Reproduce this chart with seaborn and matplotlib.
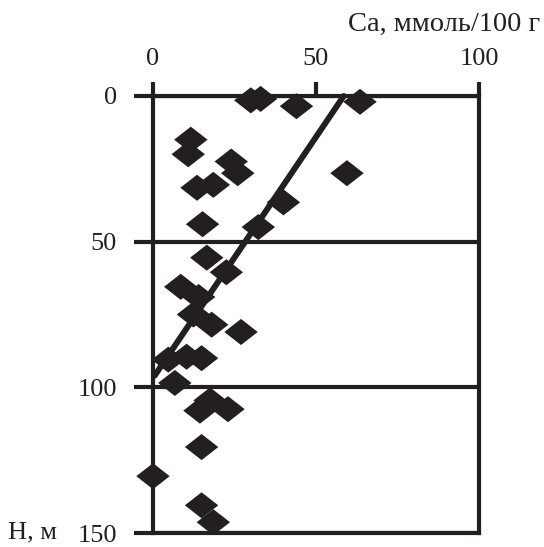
import matplotlib
matplotlib.use("Agg")
import matplotlib.pyplot as plt
import seaborn as sns
import pandas as pd

# Ca content (mmol/100 g) vs depth H (m)
ca = [30, 33, 44, 63.5, 11.6, 10.8, 24, 26, 59.5, 13.5, 18.5, 40, 15.2, 32.3,
      16.5, 22.5, 8.5, 14, 12.4, 18, 27, 4.7, 10.3, 14.9, 6.7, 17.5, 14.4, 23,
      14.9, 0, 14.9, 18.5]
depth = [1.5, 1, 3.5, 2, 15, 20, 22.5, 26.5, 26.5, 31.5, 30.5, 36.5, 44, 45,
         55.5, 60.5, 65.5, 69, 75, 78.5, 81, 90.5, 89.5, 90, 98.5, 104.5, 108,
         107.5, 120.5, 130.5, 140.5, 146.3]

# trend line end points
trend_ca = [58.5, 0.5]
trend_depth = [0, 96]

x_ticks = [0, 50, 100]
y_ticks = [0, 50, 100, 150]

ink = "#231f20"

sns.set_style("white")
plt.rcParams["font.family"] = ["Liberation Serif", "DejaVu Serif"]

df = pd.DataFrame({"ca": ca, "depth": depth})

fig = plt.figure(figsize=(5.44, 5.47), dpi=100)
ax = fig.add_axes([153 / 544, 1 - 533 / 547, 326 / 544, 437 / 547])

diamond = [(-1, 0), (0, 0.78), (1, 0), (0, -0.78), (-1, 0)]
sns.scatterplot(data=df, x="ca", y="depth", marker=diamond, s=580,
                color=ink, edgecolor="none", clip_on=False, zorder=3, ax=ax)
sns.lineplot(x=trend_ca, y=trend_depth, sort=False, estimator=None,
             color=ink, linewidth=4.3, clip_on=False, zorder=4, ax=ax)

ax.set_xlim(0, 100)
ax.set_ylim(150, 0)
ax.xaxis.tick_top()
ax.set_xticks(x_ticks)
ax.set_yticks(y_ticks)
ax.set_xlabel("")
ax.set_ylabel("")

ax.tick_params(axis="x", direction="out", length=10, width=3, pad=9,
               labelsize=19, colors=ink, top=True, bottom=False)
ax.tick_params(axis="y", direction="out", length=14, width=3, pad=12,
               labelsize=19, colors=ink, left=True)

ax.grid(False)
ax.yaxis.grid(True, color=ink, linewidth=3)
for side in ["left", "right", "top", "bottom"]:
    ax.spines[side].set_visible(True)
    ax.spines[side].set_color(ink)
    ax.spines[side].set_linewidth(3)

fig.text(540 / 544, 1 - 24 / 547, "Ca, ммоль/100 г", ha="right", va="center",
         fontsize=20.5, color=ink)
fig.text(8 / 544, 1 - 532 / 547, "H, м", ha="left", va="center",
         fontsize=19, color=ink)

fig.savefig("out.png", dpi=100)
